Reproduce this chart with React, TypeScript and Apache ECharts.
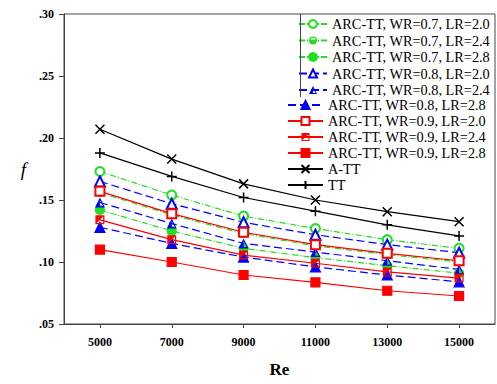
import React, { useEffect, useRef } from "react";
import * as echarts from "echarts";

const reynolds = [5000, 7000, 9000, 11000, 13000, 15000];
const xTicks = [5000, 7000, 9000, 11000, 13000, 15000];

const wr07lr20 = [0.173, 0.154, 0.137, 0.127, 0.118, 0.111];
const wr07lr24 = [0.156, 0.138, 0.123, 0.113, 0.106, 0.1];
const wr07lr28 = [0.142, 0.125, 0.111, 0.1035, 0.097, 0.091];
const wr08lr20 = [0.165, 0.147, 0.132, 0.122, 0.114, 0.1075];
const wr08lr24 = [0.148, 0.131, 0.115, 0.108, 0.101, 0.094];
const wr08lr28 = [0.128, 0.115, 0.104, 0.096, 0.0895, 0.084];
const wr09lr20 = [0.157, 0.139, 0.124, 0.114, 0.107, 0.101];
const wr09lr24 = [0.134, 0.118, 0.1056, 0.099, 0.092, 0.087];
const wr09lr28 = [0.11, 0.1, 0.0895, 0.0836, 0.0768, 0.0726];
const aTT = [0.207, 0.183, 0.163, 0.15, 0.1406, 0.1325];
const tt = [0.188, 0.169, 0.152, 0.141, 0.13, 0.121];

const names = [
  "ARC-TT, WR=0.7, LR=2.0",
  "ARC-TT, WR=0.7, LR=2.4",
  "ARC-TT, WR=0.7, LR=2.8",
  "ARC-TT, WR=0.8, LR=2.0",
  "ARC-TT, WR=0.8, LR=2.4",
  "ARC-TT, WR=0.8, LR=2.8",
  "ARC-TT, WR=0.9, LR=2.0",
  "ARC-TT, WR=0.9, LR=2.4",
  "ARC-TT, WR=0.9, LR=2.8",
  "A-TT",
  "TT",
];

const GREEN = "#1ee01e";
const BLUE = "#0000ff";
const RED = "#ff0000";
const BLACK = "#000000";

// half-filled symbols built from hole-free pieces (frame strips + filled half)
const halfSquare =
  "path://M0,0H10V1.4H0Z M0,8.6H10V10H0Z M0,0H1.4V10H0Z M8.6,0H10V10H8.6Z M0,0H10L0,10Z";
const halfTriangle =
  "path://M5,0L10,9L8.2,7.8L5,2.5Z M10,9L0,9L1.8,7.8L8.2,7.8Z M0,9L5,0L5,2.5L1.8,7.8Z M5,2.5L5,7.8L1.8,7.8Z";
const halfCircle =
  "path://M0,5A5,5,0,0,1,10,5L8.5,5A3.5,3.5,0,0,0,1.5,5Z M0,5L10,5A5,5,0,0,1,0,5Z";
const crossSym = "path://M0,0L10,10M10,0L0,10";
const plusSym = "path://M5,0V10M0,5H10";

const dashDot = [6, 2, 1, 2];
const dashed = [8, 4];

function mk(name: string, values: number[], color: string, symbol: string, size: number, dash: any, filledPath = false, strokeOnly = false) {
  return {
    name,
    type: "line",
    data: reynolds.map((x, i) => [x, values[i]]),
    symbol,
    symbolSize: size,
    showSymbol: true,
    lineStyle: { color, width: 1.2, type: dash },
    itemStyle: {
      color: strokeOnly ? BLACK : color,
      borderColor: color,
      borderWidth: strokeOnly ? 1.5 : filledPath ? 0 : 1.2,
    },
    emphasis: { disabled: true },
    z: 3,
  };
}

export default function App() {
  const ref = useRef<HTMLDivElement>(null);
  useEffect(() => {
    if (!ref.current) return;
    const chart = echarts.init(ref.current, undefined, { renderer: "svg" });
    const series = [
      mk(names[0], wr07lr20, GREEN, "emptyCircle", 9, dashDot),
      mk(names[1], wr07lr24, GREEN, halfCircle, 9, dashDot, true),
      mk(names[2], wr07lr28, GREEN, "circle", 9, dashDot),
      mk(names[3], wr08lr20, BLUE, "emptyTriangle", 10, dashed),
      mk(names[4], wr08lr24, BLUE, halfTriangle, 10, dashed, true),
      mk(names[5], wr08lr28, BLUE, "triangle", 10, dashed),
      mk(names[6], wr09lr20, RED, "emptyRect", 9, "solid"),
      mk(names[7], wr09lr24, RED, halfSquare, 9, "solid", true),
      mk(names[8], wr09lr28, RED, "rect", 9, "solid"),
      mk(names[9], aTT, BLACK, crossSym, 9, "solid", false, true),
      mk(names[10], tt, BLACK, plusSym, 10, "solid", false, true),
    ];
    const legendText = {
      fontFamily: "Liberation Serif",
      fontSize: 14.3,
      color: "#000",
      lineHeight: 12,
    };
    chart.setOption({
      animation: false,
      backgroundColor: "#fff",
      grid: {
        left: 64,
        right: 2,
        top: 14,
        bottom: 60,
        show: true,
        borderColor: "#444",
        borderWidth: 1,
        outerBoundsMode: "none",
        containLabel: false,
      },
      legend: [
        {
          data: names.slice(0, 5),
          orient: "vertical",
          left: 298,
          top: 17,
          padding: 0,
          itemWidth: 28,
          itemHeight: 10,
          itemGap: 2.5,
          textStyle: legendText,
          selectedMode: false,
        },
        {
          data: names.slice(5),
          orient: "vertical",
          left: 287,
          top: 98,
          padding: 0,
          itemWidth: 35,
          itemHeight: 10,
          itemGap: 2,
          textStyle: legendText,
          selectedMode: false,
        },
      ],
      xAxis: {
        type: "value",
        min: 4000,
        max: 16000,
        name: "Re",
        nameLocation: "middle",
        nameGap: 37,
        nameTextStyle: {
          fontFamily: "Liberation Serif",
          fontWeight: "bold",
          fontSize: 17,
          color: "#000",
        },
        splitLine: { show: false },
        axisLine: { show: true, lineStyle: { color: "#444", width: 1 } },
        axisTick: {
          show: true,
          inside: false,
          length: 4,
          customValues: xTicks,
          lineStyle: { color: "#444" },
        },
        axisLabel: {
          customValues: xTicks,
          margin: 12,
          fontFamily: "Liberation Serif",
          fontWeight: "bold",
          fontSize: 12,
          color: "#000",
          formatter: (v: number) => String(v),
        },
      },
      yAxis: {
        type: "value",
        min: 0.05,
        max: 0.3,
        interval: 0.05,
        name: "f",
        nameLocation: "middle",
        nameRotate: 0,
        nameGap: 38,
        nameTextStyle: {
          fontFamily: "Liberation Serif",
          fontStyle: "italic",
          fontSize: 19,
          color: "#000",
        },
        splitLine: { show: false },
        axisLine: { show: true, lineStyle: { color: "#444", width: 1 } },
        axisTick: { show: true, inside: false, length: 5, lineStyle: { color: "#444" } },
        axisLabel: {
          margin: 10,
          fontFamily: "Liberation Serif",
          fontWeight: "bold",
          fontSize: 12,
          color: "#000",
          formatter: (v: number) => v.toFixed(2).replace(/^0/, ""),
        },
      },
      graphic: [
        {
          type: "line",
          shape: { x1: 300.5, y1: 14, x2: 300.5, y2: 97 },
          style: { stroke: "#444", lineWidth: 1 },
          z: 10,
        },
      ],
      series,
    });
    return () => chart.dispose();
  }, []);
  return <div ref={ref} style={{ width: 497, height: 384, position: "absolute", left: 0, top: 0 }} />;
}
